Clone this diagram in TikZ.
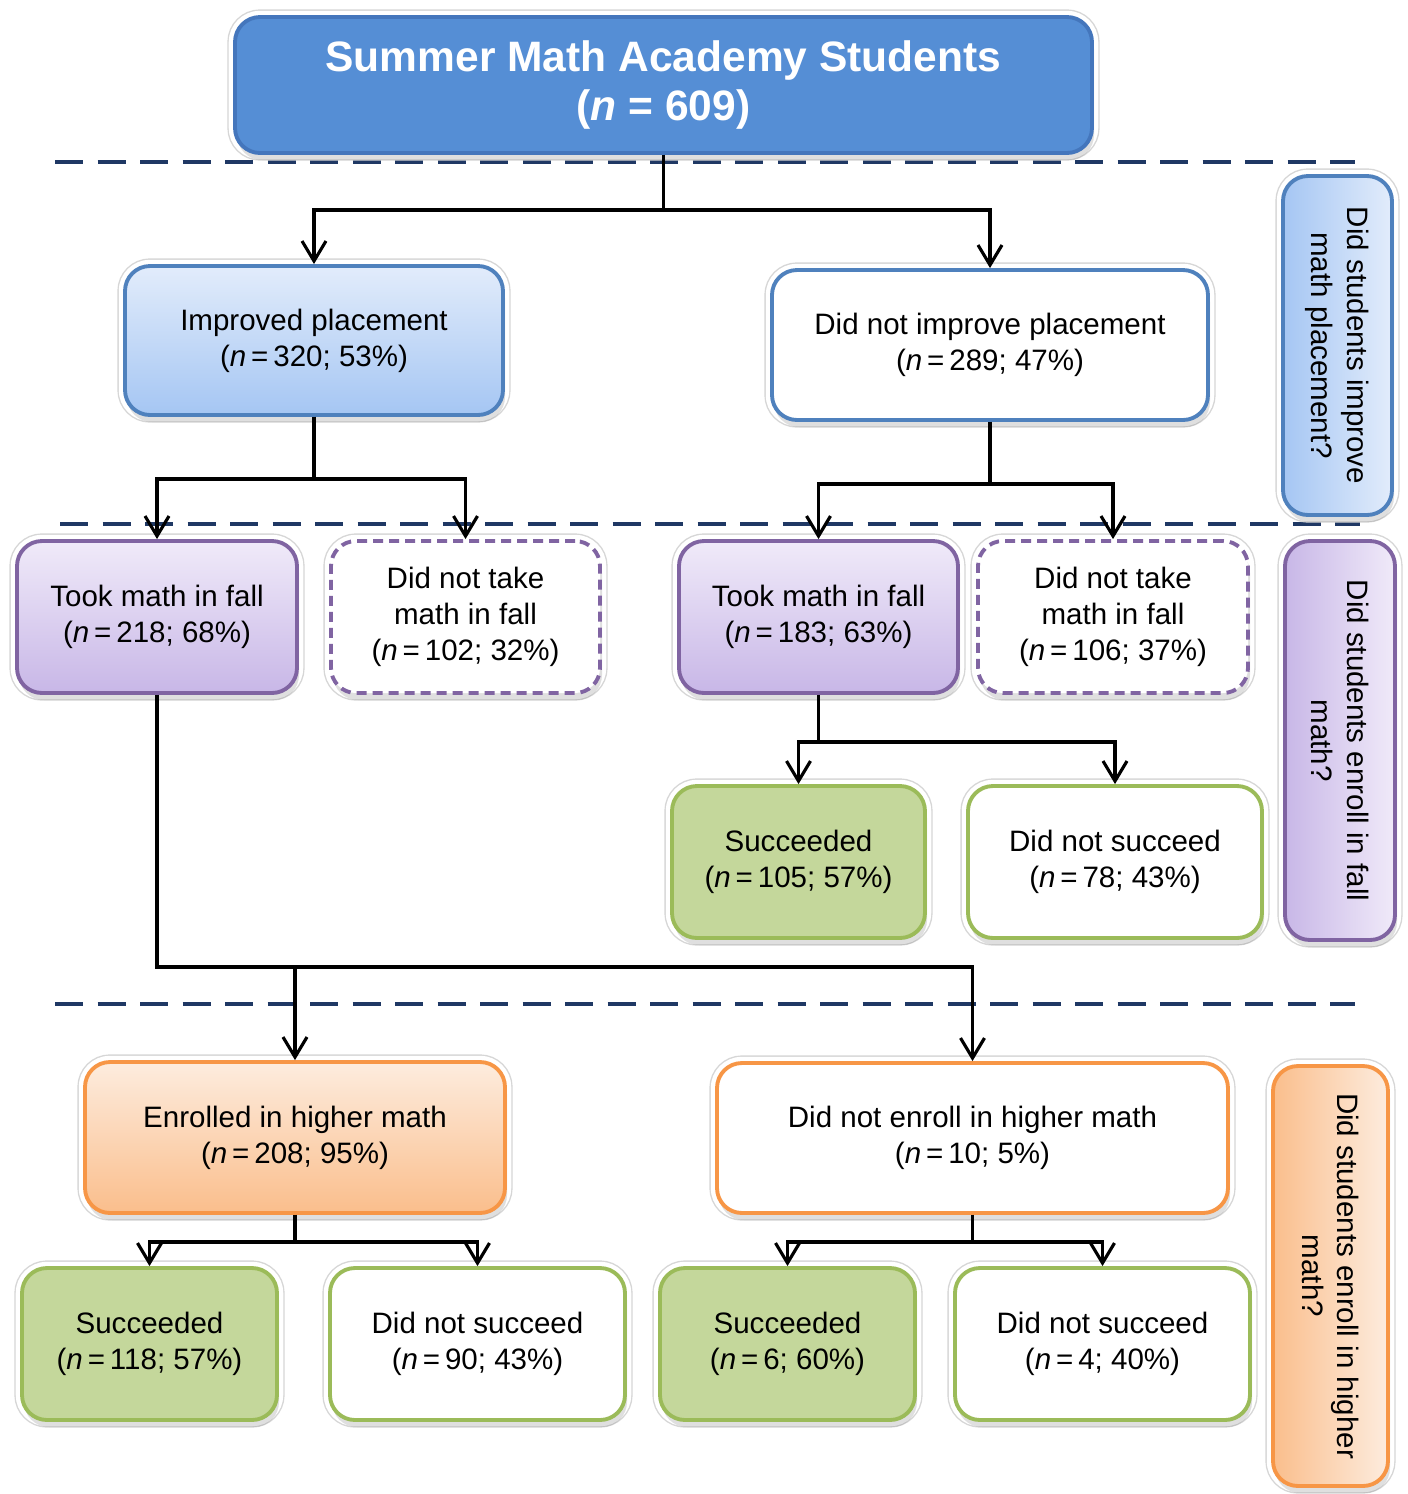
\documentclass[tikz,border=0pt]{standalone}
\usepackage{fontspec}
\setmainfont{Liberation Sans}
\usetikzlibrary{arrows.meta,shadows}

\definecolor{titleblue}{RGB}{85,142,213}
\definecolor{titleedge}{RGB}{68,118,188}
\definecolor{blueedge}{RGB}{79,129,189}
\definecolor{bluetop}{RGB}{226,236,251}
\definecolor{bluebot}{RGB}{165,198,243}
\definecolor{puredge}{RGB}{128,100,162}
\definecolor{purtop}{RGB}{240,234,249}
\definecolor{purbot}{RGB}{200,183,231}
\definecolor{grnedge}{RGB}{155,187,89}
\definecolor{grnfill}{RGB}{196,215,155}
\definecolor{orgedge}{RGB}{247,150,70}
\definecolor{orgtop}{RGB}{253,236,222}
\definecolor{orgbot}{RGB}{250,190,140}
\definecolor{navy}{RGB}{31,56,100}

\newcommand{\nval}[1]{(\textit{n}\,=\,#1)}

\begin{document}
\begin{tikzpicture}[x=1cm,y=-1cm,>={Straight Barb[length=2mm,width=2.4mm,line width=0.9pt]},
  block/.style={rectangle, rounded corners=2.5mm, line width=1.1pt, align=center, inner sep=0pt,
    minimum height=1.51cm, font=\fontsize{8.4}{10.2}\selectfont,
    preaction={draw=black!16, solid, line width=0.4pt, double=white, double distance=1.25mm},
    drop shadow={shadow xshift=0.2mm, shadow yshift=-0.7mm, opacity=0.25}},
  titlebox/.style={block, draw=titleedge, fill=titleblue, text=white,
    font=\fontsize{12.1}{14.2}\selectfont\bfseries},
  blueblock/.style={block, draw=blueedge, top color=bluetop, bottom color=bluebot},
  blueopen/.style={block, draw=blueedge, fill=white},
  purblock/.style={block, draw=puredge, top color=purtop, bottom color=purbot},
  puropen/.style={block, draw=puredge, fill=white, dash pattern=on 1mm off 0.6mm},
  grnblock/.style={block, draw=grnedge, fill=grnfill},
  grnopen/.style={block, draw=grnedge, fill=white},
  orgblock/.style={block, draw=orgedge, top color=orgtop, bottom color=orgbot},
  orgopen/.style={block, draw=orgedge, fill=white},
  sidebox/.style={block, rotate=-90},
  divider/.style={navy, line width=1.3pt, dash pattern=on 2.8mm off 1.45mm},
  link/.style={->, line width=0.9pt}]
\useasboundingbox (0,0) rectangle (14.08,14.94);

% dashed level lines
\draw[divider] (0.55,1.62) -- (13.55,1.62);
\draw[divider] (0.60,5.24) -- (13.60,5.24);
\draw[divider] (0.55,10.04) -- (13.55,10.04);

% boxes
\draw (6.635,0.85) node[titlebox, minimum width=8.57cm, minimum height=1.36cm] (SMA) {Summer Math Academy Students\\(\textit{n} = 609)};

\draw (3.14,3.405) node[blueblock, minimum width=3.78cm, minimum height=1.49cm] (Impr) {Improved placement\\\nval{320; 53\%}};
\draw (9.90,3.45) node[blueopen, minimum width=4.36cm, minimum height=1.5cm] (NoImpr) {Did not improve placement\\\nval{289; 47\%}};

\draw (1.57,6.17) node[purblock, minimum width=2.8cm, minimum height=1.52cm] (TookA) {Took math in fall\\\nval{218; 68\%}};
\draw (4.655,6.17) node[puropen, minimum width=2.69cm, minimum height=1.52cm] (NoTookA) {Did not take\\math in fall\\\nval{102; 32\%}};
\draw (8.185,6.17) node[purblock, minimum width=2.79cm, minimum height=1.52cm] (TookB) {Took math in fall\\\nval{183; 63\%}};
\draw (11.13,6.17) node[puropen, minimum width=2.7cm, minimum height=1.52cm] (NoTookB) {Did not take\\math in fall\\\nval{106; 37\%}};

\draw (7.985,8.62) node[grnblock, minimum width=2.53cm, minimum height=1.52cm] (SuccB) {Succeeded\\\nval{105; 57\%}};
\draw (11.15,8.62) node[grnopen, minimum width=2.94cm, minimum height=1.52cm] (NoSuccB) {Did not succeed\\\nval{78; 43\%}};

\draw (2.95,11.375) node[orgblock, minimum width=4.2cm] (Enr) {Enrolled in higher math\\\nval{208; 95\%}};
\draw (9.725,11.38) node[orgopen, minimum width=5.11cm, minimum height=1.5cm] (NoEnr) {Did not enroll in higher math\\\nval{10; 5\%}};

\draw (1.495,13.44) node[grnblock, minimum width=2.55cm, minimum height=1.52cm] (SuccC) {Succeeded\\\nval{118; 57\%}};
\draw (4.775,13.44) node[grnopen, minimum width=2.95cm, minimum height=1.52cm] (NoSuccC) {Did not succeed\\\nval{90; 43\%}};
\draw (7.875,13.44) node[grnblock, minimum width=2.55cm, minimum height=1.52cm] (SuccD) {Succeeded\\\nval{6; 60\%}};
\draw (11.025,13.44) node[grnopen, minimum width=2.95cm, minimum height=1.52cm] (NoSuccD) {Did not succeed\\\nval{4; 40\%}};

% side questions
\draw (13.375,3.455) node[sidebox, draw=blueedge, left color=bluebot, right color=bluetop, minimum width=3.39cm, minimum height=1.09cm] (Q1) {Did students improve\\math placement?};
\draw (13.40,7.405) node[sidebox, draw=puredge, left color=purbot, right color=purtop, minimum width=3.99cm, minimum height=1.1cm] (Q2) {Did students enroll in fall\\math?};
\draw (13.305,12.76) node[sidebox, draw=orgedge, left color=orgbot, right color=orgtop, minimum width=4.2cm, minimum height=1.15cm] (Q3) {Did students enroll in higher\\math?};

% connectors
\draw[link] (SMA.south) -- ++(0,0.55) -| (Impr.north);
\draw[link] (SMA.south) -- ++(0,0.55) -| (NoImpr.north);
\draw[link] (Impr.south) -- ++(0,0.62) -| (TookA.north);
\draw[link] (Impr.south) -- ++(0,0.62) -| (NoTookA.north);
\draw[link] (NoImpr.south) -- ++(0,0.62) -| (TookB.north);
\draw[link] (NoImpr.south) -- ++(0,0.62) -| (NoTookB.north);
\draw[link] (TookB.south) -- ++(0,0.47) -| (SuccB.north);
\draw[link] (TookB.south) -- ++(0,0.47) -| (NoSuccB.north);
\draw[link] (TookA.south) -- ++(0,2.72) -| (Enr.north);
\draw[link] (TookA.south) -- ++(0,2.72) -| (NoEnr.north);
\draw[link] (Enr.south) -- ++(0,0.27) -| (SuccC.north);
\draw[link] (Enr.south) -- ++(0,0.27) -| (NoSuccC.north);
\draw[link] (NoEnr.south) -- ++(0,0.27) -| (SuccD.north);
\draw[link] (NoEnr.south) -- ++(0,0.27) -| (NoSuccD.north);
\end{tikzpicture}
\end{document}
